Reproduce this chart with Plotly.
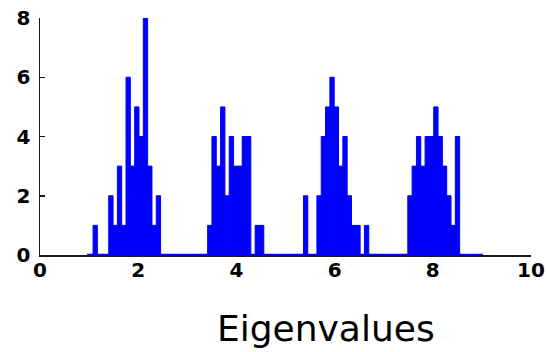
import plotly.graph_objects as go

# ---- data ----
BIN_WIDTH = 0.088
cluster_starts = [1.400, 3.414, 5.640, 7.491]
cluster1_counts = [2, 1, 3, 1, 6, 3, 5, 4, 8, 3, 1, 2]
cluster2_counts = [1, 4, 3, 5, 2, 4, 3, 3, 4, 4, 0, 1, 1]
cluster3_counts = [2, 4, 5, 6, 5, 3, 4, 2, 1, 1, 0, 1]
cluster4_counts = [2, 3, 4, 3, 4, 4, 5, 4, 3, 2, 1, 4]
isolated_centers = [1.125, 5.41]
isolated_counts = [1, 2]
hist_range = [0.96, 9.02]

x_ticks = [0, 2, 4, 6, 8, 10]
y_ticks = [0, 2, 4, 6, 8]
x_label = "Eigenvalues"

# ---- build bins ----
centers, counts = [], []
for start, cnts in zip(cluster_starts,
                       [cluster1_counts, cluster2_counts, cluster3_counts, cluster4_counts]):
    for i, c in enumerate(cnts):
        centers.append(start + (i + 0.5) * BIN_WIDTH)
        counts.append(c)
centers += isolated_centers
counts += isolated_counts

BLUE = "#0000ff"
AXIS = "#1a1a1a"

fig = go.Figure()
fig.add_trace(go.Scatter(
    x=hist_range, y=[0, 0], mode="lines",
    line=dict(color=BLUE, width=2.5), cliponaxis=False,
    hoverinfo="skip", showlegend=False))
fig.add_trace(go.Bar(
    x=centers, y=counts, width=BIN_WIDTH,
    marker=dict(color=BLUE, line=dict(color=BLUE, width=1)),
    cliponaxis=False, showlegend=False))

tick_font = dict(family="DejaVu Sans", size=20, color="black", weight="bold")

fig.update_layout(
    width=547, height=352,
    margin=dict(l=40, r=15.5, t=18, b=97, pad=0, autoexpand=False),
    paper_bgcolor="white", plot_bgcolor="white",
    bargap=0,
    xaxis=dict(range=[0, 10], tickvals=x_ticks, ticktext=[str(v) for v in x_ticks],
               showline=True, linecolor=AXIS, linewidth=1.5, mirror=False,
               ticks="inside", ticklen=5, tickwidth=1.5, tickcolor=AXIS,
               showgrid=False, zeroline=False, layer="below traces",
               tickfont=tick_font, automargin=False, ticklabelstandoff=-4,
               ticklabeloverflow="allow", fixedrange=True),
    yaxis=dict(range=[0, 8], tickvals=y_ticks, ticktext=[str(v) for v in y_ticks],
               showline=True, linecolor=AXIS, linewidth=1.5, mirror=False,
               ticks="inside", ticklen=5, tickwidth=1.5, tickcolor=AXIS,
               showgrid=False, zeroline=False, layer="below traces",
               tickfont=tick_font, ticklabelstandoff=4, automargin=False,
               ticklabeloverflow="allow", fixedrange=True),
    annotations=[dict(text=x_label, xref="paper", yref="paper",
                      x=0.582, y=-0.312, xanchor="center", yanchor="middle",
                      showarrow=False,
                      font=dict(family="DejaVu Sans", size=36, color="black"))],
)

# remove the default page margin so the figure fills the window exactly
fig.write_html(
    "out.html",
    config={"displayModeBar": False, "staticPlot": True},
    post_script="document.body.style.margin='0';document.body.style.overflow='hidden';",
)
